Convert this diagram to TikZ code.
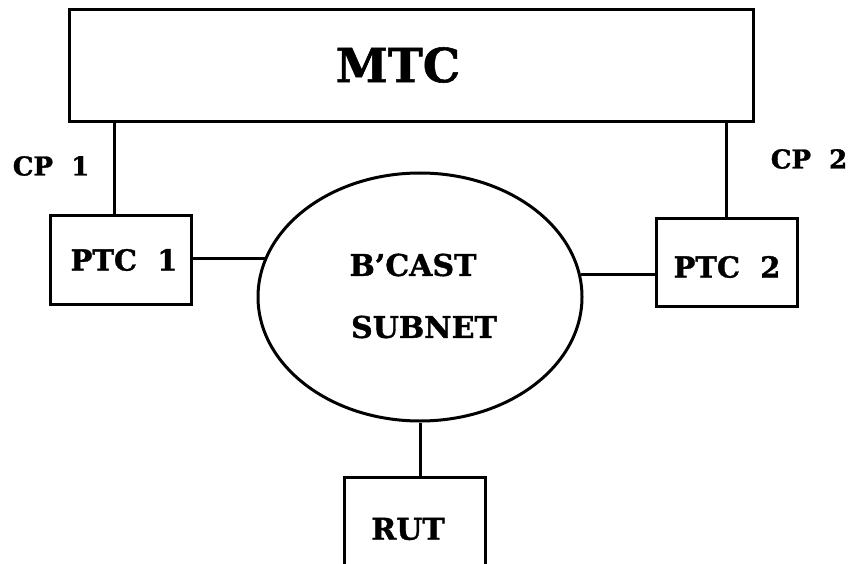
\documentclass[tikz,border=0pt]{standalone}
\usepackage{fontspec}
\setmainfont{DejaVu Serif}[BoldFeatures={FakeBold=1.2}]
\usetikzlibrary{shapes.geometric}
\tikzset{
  unit/.style={draw, line width=3pt, inner sep=0pt},
  txt/.style={font={\bfseries\fontsize{#1}{#1}\selectfont}, inner sep=0pt},
}
\begin{document}
\begin{tikzpicture}[x=1pt,y=-1pt,line width=3pt]
    \useasboundingbox (0,0) rectangle (851,564);
    % boxes
    \node[unit, minimum width=684pt, minimum height=112pt] (mtc) at (411,66) {};
    \node[unit, minimum width=141pt, minimum height=88pt] (ptc1) at (120.5,260) {};
    \node[unit, minimum width=141pt, minimum height=88pt] (ptc2) at (726.5,262.5) {};
    \node[unit, minimum width=141pt, minimum height=89pt] (rut) at (414.5,521.5) {};
    \node[unit, ellipse, minimum width=324pt, minimum height=248pt] (sub) at (420,297) {};
    % texts
    \node[txt=47] (mtct) at (398,65) {MTC};
    \node[txt=29] (ptc1t) at (124,260) {PTC\ \ 1};
    \node[txt=29] (ptc2t) at (727,267) {PTC\ \ 2};
    \node[txt=26] (cp1) at (51,166) {CP\ \ 1};
    \node[txt=26] (cp2) at (809,159) {CP\ \ 2};
    \node[txt=30] (bcast) at (413,265) {B'CAST};
    \node[txt=30] (subnet) at (424,327) {SUBNET};
    \node[txt=30] (rutt) at (408,529) {RUT};
    % links
    \draw ([xshift=-6.5pt]ptc1.north) -- ([xshift=-6.5pt]ptc1.north |- mtc.south);
    \draw (ptc2.north) -- (ptc2.north |- mtc.south);
    \draw (ptc1.east |- sub.166.5) -- (sub.166.5);
    \draw (sub.8.6) -- (sub.8.6 -| ptc2.west);
    \draw (sub.south) -- (sub.south |- rut.north);
\end{tikzpicture}
\end{document}
